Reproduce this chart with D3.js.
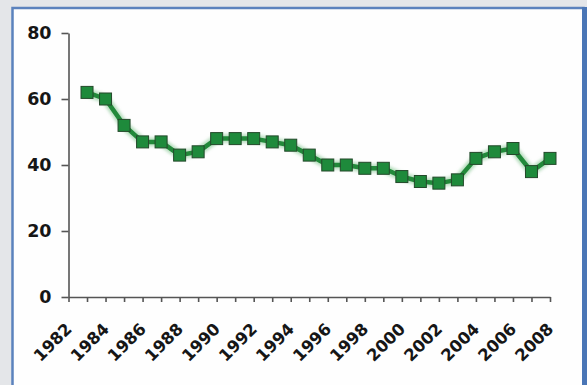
<!DOCTYPE html>
<html>
<head>
<meta charset="utf-8">
<script src="https://cdn.jsdelivr.net/npm/d3@7"></script>
<style>
  html, body { margin: 0; padding: 0; background: #e4e6e9; }
  svg { display: block; }
  text { font-family: "DejaVu Sans", Verdana, sans-serif; font-weight: bold; fill: #161616; }
</style>
</head>
<body>
<svg id="chart" width="587" height="385"></svg>
<script>
// Yearly series, 1983–2008
const years = [1983, 1984, 1985, 1986, 1987, 1988, 1989, 1990, 1991, 1992, 1993, 1994, 1995,
               1996, 1997, 1998, 1999, 2000, 2001, 2002, 2003, 2004, 2005, 2006, 2007, 2008];
const values = [62, 60, 52, 47, 47, 43, 44, 48, 48, 48, 47, 46, 43,
                40, 40, 39, 39, 36.5, 35, 34.5, 35.5, 42, 44, 45, 38, 42];
const xTickYears = d3.range(1982, 2009);          // a tick for every year
const yTicks = [0, 20, 40, 60, 80];

const svg = d3.select("#chart");

// framed white panel
svg.append("rect")
  .attr("x", 12.5).attr("y", 8).attr("width", 571).attr("height", 395)
  .attr("fill", "#fefefe").attr("stroke", "#5b82bd").attr("stroke-width", 2.5);
svg.append("line")
  .attr("x1", 584.5).attr("x2", 584.5).attr("y1", 7).attr("y2", 385)
  .attr("stroke", "#4a76b6").attr("stroke-width", 5);

const x = d3.scaleLinear().domain([1982, 2008]).range([68.5, 550]);
const y = d3.scaleLinear().domain([0, 80]).range([297, 33]);

// y axis
const gy = svg.append("g").attr("transform", "translate(68.5,0)")
  .call(d3.axisLeft(y).tickValues(yTicks).tickSize(7).tickSizeOuter(0).tickPadding(10));
gy.selectAll("text").style("font-size", "17.5px");

// x axis
const gx = svg.append("g").attr("transform", "translate(0,297)")
  .call(d3.axisBottom(x).tickValues(xTickYears).tickSize(5).tickSizeOuter(0)
        .tickFormat(d => d % 2 === 0 ? String(d) : ""));
gx.selectAll("text")
  .style("font-size", "16.5px")
  .attr("text-anchor", "end")
  .attr("y", 0).attr("dy", 0)
  .attr("transform", "translate(4,33) rotate(-45)");

[gx, gy].forEach(g => {
  g.select(".domain").attr("stroke", "#555").attr("stroke-width", 1.6);
  g.selectAll(".tick line").attr("stroke", "#555").attr("stroke-width", 1.6);
});

// soft glow under the line
const defs = svg.append("defs");
defs.append("filter").attr("id", "glow").attr("x", "-10%").attr("y", "-10%")
  .attr("width", "120%").attr("height", "120%")
  .append("feGaussianBlur").attr("stdDeviation", 1.6);

const data = years.map((yr, i) => ({ yr, v: values[i] }));
const line = d3.line().x(d => x(d.yr)).y(d => y(d.v));

svg.append("path").datum(data).attr("d", line)
  .attr("fill", "none").attr("stroke", "#7fc48c").attr("stroke-width", 9)
  .attr("stroke-opacity", 0.55).attr("stroke-linejoin", "round")
  .attr("filter", "url(#glow)");
svg.append("path").datum(data).attr("d", line)
  .attr("fill", "none").attr("stroke", "#22893a").attr("stroke-width", 4.5)
  .attr("stroke-linejoin", "round");

const s = 12;
svg.append("g").selectAll("rect").data(data).join("rect")
  .attr("x", d => x(d.yr) - s / 2).attr("y", d => y(d.v) - s / 2)
  .attr("width", s).attr("height", s)
  .attr("fill", "#1e8a3b").attr("stroke", "#24492b").attr("stroke-width", 1);
</script>
</body>
</html>
